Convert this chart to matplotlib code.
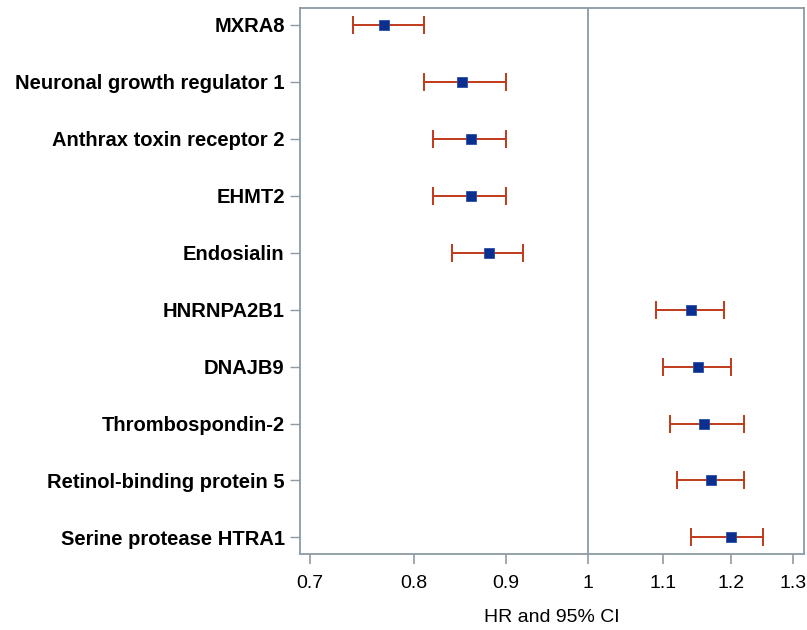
import matplotlib
matplotlib.use("Agg")
import matplotlib.pyplot as plt
from matplotlib.ticker import FixedLocator, FixedFormatter, NullLocator

labels = ["MXRA8", "Neuronal growth regulator 1", "Anthrax toxin receptor 2", "EHMT2",
          "Endosialin", "HNRNPA2B1", "DNAJB9", "Thrombospondin-2",
          "Retinol-binding protein 5", "Serine protease HTRA1"]
hr = [0.77, 0.85, 0.86, 0.86, 0.88, 1.14, 1.15, 1.16, 1.17, 1.20]
ci_low = [0.74, 0.81, 0.82, 0.82, 0.84, 1.09, 1.10, 1.11, 1.12, 1.14]
ci_high = [0.81, 0.90, 0.90, 0.90, 0.92, 1.19, 1.20, 1.22, 1.22, 1.25]
xticks = [0.7, 0.8, 0.9, 1.0, 1.1, 1.2, 1.3]
xtick_labels = ["0.7", "0.8", "0.9", "1", "1.1", "1.2", "1.3"]

plt.rcParams['font.family'] = ['Liberation Sans', 'DejaVu Sans']

fig = plt.figure(figsize=(8.07, 6.3), dpi=100)
ax = fig.add_axes([0.3717, 0.1206, 0.6246, 0.8667])

frame_col = "#8e9ba4"
err_col = "#c0391b"
mk_col = "#0b2f8f"

ypos = list(range(1, len(labels) + 1))
xerr = [[h - l for h, l in zip(hr, ci_low)], [u - h for h, u in zip(hr, ci_high)]]
ax.axvline(1.0, color=frame_col, lw=1.3, zorder=1)
ax.errorbar(hr, ypos, xerr=xerr, fmt='none', ecolor=err_col, elinewidth=1.4,
            capsize=6.5, capthick=1.4, zorder=2)
ax.plot(hr, ypos, 's', color=mk_col, markersize=6.8, markeredgecolor="#2b4fa8",
        markeredgewidth=0.6, zorder=3)

ax.set_xscale('log')
ax.set_xlim(0.6911, 1.318)
ax.xaxis.set_major_locator(FixedLocator(xticks))
ax.xaxis.set_major_formatter(FixedFormatter(xtick_labels))
ax.xaxis.set_minor_locator(NullLocator())
ax.set_ylim(10.29, 0.71)
ax.set_yticks(ypos)
ax.set_yticklabels(labels, fontsize=14.5, fontweight='bold')
ax.tick_params(axis='x', labelsize=14, length=7, width=1.2, color=frame_col, pad=8)
ax.tick_params(axis='y', length=7, width=1.0, color=frame_col, pad=4)
for s in ax.spines.values():
    s.set_color(frame_col)
    s.set_linewidth(1.3)
ax.set_xlabel("HR and 95% CI", fontsize=14, labelpad=12)

fig.savefig("out.png", dpi=100)
